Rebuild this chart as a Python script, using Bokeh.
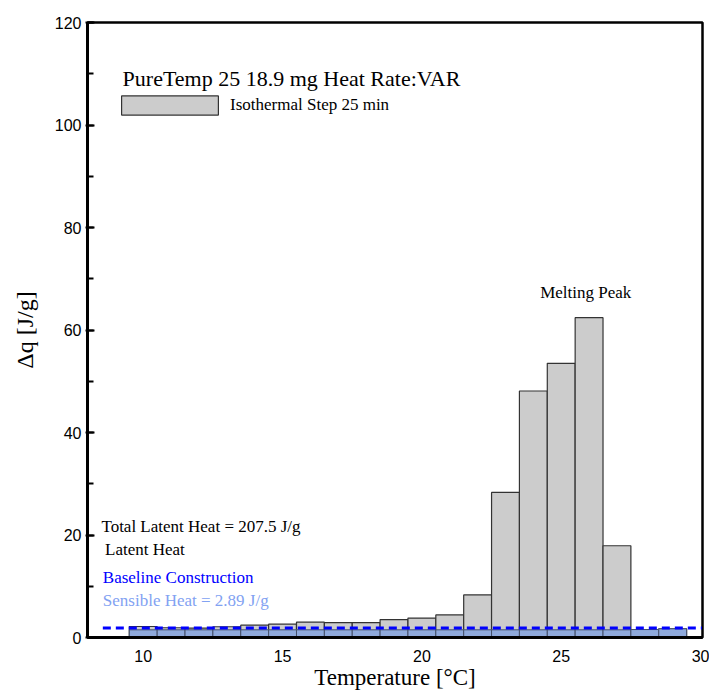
from bokeh.plotting import figure
from bokeh.models import (ColumnDataSource, Range1d, Label, Legend, LegendItem,
                          SingleIntervalTicker, FixedTicker)
from bokeh.embed import file_html
from bokeh.resources import INLINE

# ---- data ----
temps = [10, 11, 12, 13, 14, 15, 16, 17, 18, 19, 20, 21, 22, 23, 24, 25, 26, 27, 28, 29]
total_heat = [2.15, 1.9, 1.83, 2.1, 2.4, 2.6, 3.0, 2.9, 2.9, 3.5, 3.8, 4.4, 8.3, 28.3,
              48.1, 53.5, 62.4, 17.9, 1.55, 1.7]
sensible_heat = [1.5, 1.5, 1.5, 1.5, 1.5, 1.5, 1.5, 1.5, 1.5, 1.5, 1.5, 1.5, 1.5, 1.5,
                 1.5, 1.5, 1.5, 1.5, 1.55, 1.7]
baseline_x = [8.55, 30.05]
baseline_y = [1.85, 1.85]
x_ticks = [10, 15, 20, 25, 30]

SERIF = "Liberation Serif"
SANS = "Liberation Sans"

p = figure(width=709, height=692, output_backend="svg", toolbar_location=None,
           x_range=Range1d(8, 30.07), y_range=Range1d(0, 120),
           min_border_left=87, min_border_right=7, min_border_top=22, min_border_bottom=55)
p.xgrid.visible = False
p.ygrid.visible = False
p.background_fill_color = "white"
p.border_fill_color = "white"
p.outline_line_color = "black"
p.outline_line_width = 2.5

src = ColumnDataSource(dict(t=temps, total=total_heat, sens=sensible_heat))
gray = p.vbar(x="t", top="total", width=1, bottom=0, source=src,
              fill_color="#CCCCCC", line_color="#333333", line_width=1.2)
p.vbar(x="t", top="sens", width=1, bottom=0, source=src,
       fill_color="#8FAADC", line_color="#44506a", line_width=1)
p.line(baseline_x, baseline_y, line_color="#0000FF", line_width=3, line_dash="8 5")

# axes
p.xaxis.ticker = FixedTicker(ticks=x_ticks)
p.xaxis.major_tick_line_color = None
p.xaxis.minor_tick_line_color = None
p.xaxis.axis_line_width = 3
p.xaxis.major_label_text_font = SANS
p.xaxis.major_label_text_font_size = "16px"
p.xaxis.major_label_text_color = "black"
p.xaxis.major_label_standoff = 6
p.xaxis.axis_label = "Temperature [°C]"
p.xaxis.axis_label_text_font = SERIF
p.xaxis.axis_label_text_font_style = "normal"
p.xaxis.axis_label_text_font_size = "23px"
p.xaxis.axis_label_text_color = "black"
p.xaxis.axis_label_standoff = 0

p.yaxis.ticker = SingleIntervalTicker(interval=20, num_minor_ticks=2)
p.yaxis.axis_line_width = 3
p.yaxis.major_tick_in = 7
p.yaxis.major_tick_out = 2
p.yaxis.major_tick_line_width = 2
p.yaxis.minor_tick_in = 6
p.yaxis.minor_tick_out = 0
p.yaxis.minor_tick_line_width = 2
p.yaxis.major_label_text_font = SANS
p.yaxis.major_label_text_font_size = "16px"
p.yaxis.major_label_text_color = "black"
p.yaxis.major_label_standoff = 4
p.yaxis.axis_label = "Δq [J/g]"
p.yaxis.axis_label_text_font = SERIF
p.yaxis.axis_label_text_font_style = "normal"
p.yaxis.axis_label_text_font_size = "24px"
p.yaxis.axis_label_text_color = "black"
p.yaxis.axis_label_standoff = 14

# legend
legend = Legend(items=[LegendItem(label="Isothermal Step 25 min", renderers=[gray])],
                location=(22, 520),
                label_text_font=SERIF, label_text_font_size="17px",
                label_text_color="black",
                glyph_width=121, glyph_height=24, label_standoff=0,
                padding=0, margin=0, border_line_color=None,
                background_fill_alpha=0)
p.add_layout(legend)

def lab(x, y, text, color="black", size="17px", align="left"):
    p.add_layout(Label(x=x, y=y, text=text, text_color=color, text_font=SERIF,
                       text_font_size=size, text_align=align, text_baseline="middle"))

lab(9.26, 109.0, "PureTemp 25 18.9 mg Heat Rate:VAR", size="22px")
lab(25.88, 67.3, "Melting Peak", align="center")
lab(8.5, 21.6, "Total Latent Heat = 207.5 J/g")
lab(8.63, 17.1, "Latent Heat")
lab(8.55, 11.8, "Baseline Construction", color="#0000FF")
lab(8.55, 7.3, "Sensible Heat = 2.89 J/g", color="#82A2F2")

open("out.html", "w").write(file_html(p, INLINE))
